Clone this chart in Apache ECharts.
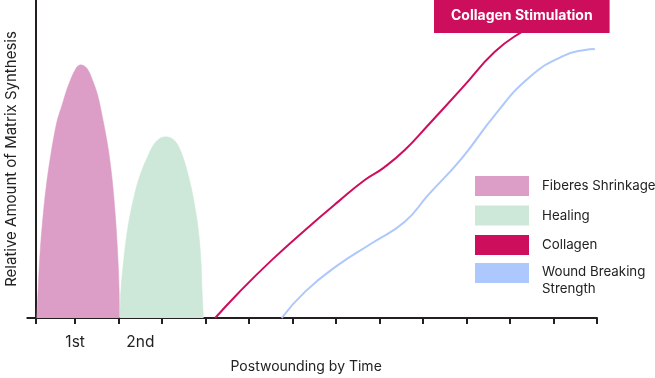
<!DOCTYPE html>
<html>
<head>
<meta charset="utf-8">
<script src="https://cdn.jsdelivr.net/npm/echarts@6/dist/echarts.min.js"></script>
<style>
html,body{margin:0;padding:0;background:#fff;}
#c{width:655px;height:378px;}
</style>
</head>
<body>
<div id="c"></div>
<script>
// ---- data (x in time units, y in relative amount 0-100) ----
var seriesNames = ['Fiberes Shrinkage', 'Healing', 'Collagen', 'Wound Breaking Strength'];
var fiberesShrinkage = [
  [0.2,0],[0.5,9.3],[0.9,19.8],[1.5,30.3],[2.3,40.8],[3.4,51.3],[4.8,61.7],[6.0,67],[7.4,73],
  [9.2,78.5],[10.3,79.6],[11.7,78.5],[13.0,74.8],[14.2,70],[15.3,63],[16.4,55],[17.4,45],
  [18.2,33],[18.8,19.8],[19.1,9.3],[19.2,0]
];
var healing = [
  [19.3,0],[19.5,8.3],[20.2,18.8],[21.2,29.2],[22.8,39.7],[24.2,46],[25.5,50.2],[27.0,54.4],
  [28.3,56.3],[29.8,57],[31.4,56.3],[32.6,54.4],[33.9,50.2],[35.0,45],[35.9,39.7],[37.2,29.2],
  [37.9,18.8],[38.2,8.3],[38.5,0]
];
var collagen = [
  [41.2,0],[46.5,7.8],[54.2,18.2],[61.9,27.7],[69.5,36.6],[75.6,43.4],[80,47.3],[84.8,52.8],
  [90.2,60.7],[97.9,72.2],[105.5,83.7],[111.7,90],[115.9,93],[121.6,96.2],[127,98]
];
var woundStrength = [
  [56.5,0],[61.9,8.3],[69.5,16.7],[77.2,23.5],[84.8,30.3],[90.2,38.7],[97.9,50.2],[105.5,63.8],
  [113.2,75.4],[120.9,82.2],[126.2,84.3],[128.5,84.6]
];
var xTickValues = [0, 9, 19, 29, 39, 49, 59, 69, 79, 89, 99, 109, 119, 129];
var xLabelValues = [9, 24];
var xLabelTexts = ['1st', '2nd'];
var titleText = 'Collagen Stimulation';
var xAxisName = 'Postwounding by Time';
var yAxisName = 'Relative Amount of Matrix Synthesis';

var colors = ['#dc9ec6', '#cde8d8', '#cc0e5c', '#adc8fc'];
var FONT = 'Inter';
var TXT = '#222222';

var chart = echarts.init(document.getElementById('c'), null, {renderer: 'canvas'});
chart.setOption({
  animation: false,
  backgroundColor: '#ffffff',
  title: {
    text: titleText,
    left: 434,
    top: 0,
    padding: [9, 17, 10, 17],
    backgroundColor: '#cc0e5c',
    textStyle: {color: '#ffffff', fontFamily: FONT, fontWeight: 'bold', fontSize: 14, lineHeight: 14}
  },
  grid: {left: 27.3, right: 58, top: 0, bottom: 60, outerBoundsMode: 'none', containLabel: false},
  legend: [{
    orient: 'vertical',
    left: 475,
    top: 176,
    padding: 0,
    itemWidth: 54,
    itemHeight: 20,
    itemGap: 9.5,
    icon: 'rect',
    selectedMode: false,
    data: seriesNames.slice(0, 3),
    textStyle: {fontFamily: FONT, fontSize: 13.3, color: TXT, padding: [0, 0, 0, 8]}
  }, {
    orient: 'vertical',
    left: 475,
    top: 249.5,
    padding: 0,
    itemWidth: 54,
    itemHeight: 20,
    icon: 'rect',
    selectedMode: false,
    data: [seriesNames[3]],
    formatter: function (n) { return '{e| }\n{a|Wound Breaking}\n{a|Strength}'; },
    textStyle: {
      fontFamily: FONT, fontSize: 13.3, color: TXT, padding: [0, 0, 0, 8],
      rich: {
        e: {fontFamily: FONT, fontSize: 13.3, lineHeight: 15, color: TXT},
        a: {fontFamily: FONT, fontSize: 13.3, lineHeight: 17, color: TXT}
      }
    }
  }],
  xAxis: {
    type: 'value',
    min: -2,
    max: 129,
    splitLine: {show: false},
    axisLine: {show: true, lineStyle: {color: '#231f20', width: 2}},
    axisTick: {show: true, customValues: xTickValues, length: 6, lineStyle: {color: '#231f20', width: 2}},
    axisLabel: {
      show: true, customValues: xLabelValues, margin: 16,
      fontFamily: FONT, fontSize: 15.5, color: TXT,
      formatter: function (v) { var i = xLabelValues.indexOf(v); return i >= 0 ? xLabelTexts[i] : ''; }
    },
    name: xAxisName,
    nameLocation: 'middle',
    nameGap: 42,
    nameTextStyle: {fontFamily: FONT, fontSize: 14, color: TXT, padding: [0, 12, 0, 0]}
  },
  yAxis: {
    type: 'value',
    min: 0,
    max: 100,
    splitLine: {show: false},
    axisLine: {show: true, onZero: true, lineStyle: {color: '#231f20', width: 2}},
    axisTick: {show: false},
    axisLabel: {show: false},
    name: yAxisName,
    nameLocation: 'middle',
    nameGap: 8,
    nameTextStyle: {fontFamily: FONT, fontSize: 15, color: TXT}
  },
  series: [{
    name: seriesNames[0], type: 'line', data: fiberesShrinkage, smooth: 0.35,
    showSymbol: false, symbol: 'none', itemStyle: {color: colors[0]},
    lineStyle: {width: 0.5, color: colors[0]}, areaStyle: {color: colors[0], opacity: 1}, z: 1
  }, {
    name: seriesNames[1], type: 'line', data: healing, smooth: 0.35,
    showSymbol: false, symbol: 'none', itemStyle: {color: colors[1]},
    lineStyle: {width: 0.5, color: colors[1]}, areaStyle: {color: colors[1], opacity: 1}, z: 1
  }, {
    name: seriesNames[2], type: 'line', data: collagen, smooth: 0.5,
    showSymbol: false, symbol: 'none', itemStyle: {color: colors[2]},
    lineStyle: {width: 2, color: colors[2]}, z: 2
  }, {
    name: seriesNames[3], type: 'line', data: woundStrength, smooth: 0.5,
    showSymbol: false, symbol: 'none', itemStyle: {color: colors[3]},
    lineStyle: {width: 2, color: colors[3]}, z: 2
  }]
});
</script>
</body>
</html>
